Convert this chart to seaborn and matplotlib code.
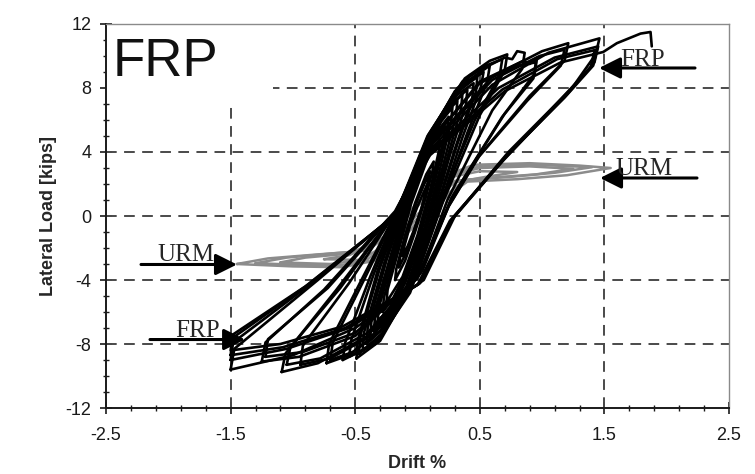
import matplotlib
matplotlib.use("Agg")
import matplotlib.pyplot as plt
import pandas as pd
import seaborn as sns
from matplotlib.patches import Rectangle
from matplotlib.ticker import MultipleLocator

# FRP-retrofitted pier: one list per load cycle (drift %, lateral load kips)
frp_drift = [
    [-0.12, -0.11, -0.06, 0.0, 0.05, 0.08, 0.07, 0.03, -0.03, -0.08, -0.12],
    [-0.15, -0.14, -0.08, -0.01, 0.06, 0.10, 0.09, 0.04, -0.03, -0.09, -0.15],
    [-0.18, -0.17, -0.1, -0.02, 0.07, 0.13, 0.12, 0.06, -0.02, -0.1, -0.18],
    [-0.25, -0.24, -0.14, -0.05, 0.08, 0.18, 0.17, 0.1, 0.0, -0.12, -0.25],
    [-0.28, -0.27, -0.16, -0.06, 0.08, 0.15, 0.22, 0.21, 0.12, 0.02, -0.11, -0.2, -0.28],
    [-0.32, -0.31, -0.18, -0.07, 0.08, 0.17, 0.25, 0.24, 0.14, 0.03, -0.1, -0.22, -0.32],
    [-0.35, -0.34, -0.2, -0.08, 0.08, 0.19, 0.28, 0.27, 0.17, 0.05, -0.1, -0.24, -0.35],
    [-0.38, -0.37, -0.22, -0.09, 0.08, 0.2, 0.32, 0.31, 0.2, 0.06, -0.1, -0.26, -0.38],
    [-0.41, -0.40, -0.25, -0.10, 0.09, 0.23, 0.36, 0.35, 0.23, 0.08, -0.09, -0.27, -0.41],
    [-0.44, -0.43, -0.27, -0.11, 0.09, 0.25, 0.40, 0.39, 0.26, 0.1, -0.08, -0.28, -0.44],
    [-0.47, -0.46, -0.3, -0.12, 0.09, 0.27, 0.45, 0.44, 0.3, 0.12, -0.08, -0.29, -0.47],
    [-0.49, -0.48, -0.32, -0.13, 0.09, 0.28, 0.48, 0.47, 0.32, 0.13, -0.08, -0.3, -0.49],
    [-0.55, -0.53, -0.35, -0.14, 0.08, 0.3, 0.53, 0.51, 0.36, 0.15, -0.07, -0.32, -0.55],
    [-0.6, -0.58, -0.38, -0.15, 0.08, 0.32, 0.58, 0.56, 0.4, 0.16, -0.06, -0.34, -0.6],
    [-0.7, -0.68, -0.43, -0.15, 0.09, 0.36, 0.55, 0.68, 0.66, 0.46, 0.18, -0.02, -0.3, -0.52, -0.7],
    [-0.73, -0.71, -0.45, -0.16, 0.08, 0.38, 0.58, 0.72, 0.70, 0.5, 0.2, 0.0, -0.3, -0.55, -0.73],
    [-0.94, -0.92, -0.55, -0.17, 0.1, 0.42, 0.7, 0.76, 0.8, 0.86, 0.84, 0.6, 0.24, 0.02, -0.35, -0.7, -0.94],
    [-1.05, -1.02, -0.62, -0.17, 0.11, 0.5, 0.8, 0.95, 0.93, 0.68, 0.27, 0.03, -0.4, -0.78, -1.05],
    [-1.09, -1.06, -0.65, -0.18, 0.1, 0.5, 0.85, 0.9, 0.96, 0.94, 0.7, 0.28, 0.04, -0.4, -0.8, -1.09],
    [-1.22, -1.2, -0.72, -0.17, 0.12, 0.6, 0.98, 1.18, 1.15, 0.88, 0.48, 0.24, 0.0, -0.5, -0.92, -1.22],
    [-1.25, -1.22, -0.75, -0.18, 0.12, 0.6, 1.0, 1.21, 1.18, 0.9, 0.5, 0.25, 0.0, -0.5, -0.95, -1.25],
    [-1.5, -1.47, -0.8, -0.15, 0.12, 0.6, 1.05, 1.46, 1.43, 1.24, 0.73, 0.3, 0.05, -0.5, -1.0, -1.5],
    [-1.5, -1.48, -0.85, -0.16, 0.1, 0.65, 1.1, 1.45, 1.42, 1.2, 0.7, 0.28, 0.02, -0.55, -1.05, -1.5],
    [-1.5, -1.48, -0.88, -0.16, 0.1, 0.68, 1.12, 1.44, 1.41, 1.18, 0.68, 0.27, 0.01, -0.58, -1.08, -1.5],
    [1.42, 1.39, 1.15, 0.68, 0.26, 0.0, -0.6, -1.1, -1.5, -1.48, -0.9, -0.17, 0.1, 0.7, 1.15,
     1.49, 1.6, 1.79, 1.87, 1.88],
]
frp_load = [
    [-2.5, -2.0, -0.6, 0.6, 1.5, 2.0, 1.6, 0.4, -0.9, -1.9, -2.5],
    [-3.2, -2.6, -0.9, 0.8, 2.1, 2.8, 2.3, 0.7, -1.0, -2.3, -3.2],
    [-4.0, -3.3, -1.2, 0.8, 2.6, 3.4, 2.8, 1.0, -1.0, -2.8, -4.0],
    [-5.4, -4.6, -1.8, 0.8, 3.6, 4.8, 4.0, 1.6, -1.2, -3.8, -5.4],
    [-6.0, -5.1, -2.0, 0.8, 3.9, 5.0, 5.6, 4.8, 1.9, -1.1, -3.8, -5.2, -6.0],
    [-6.6, -5.7, -2.2, 0.8, 4.0, 5.4, 6.2, 5.4, 2.2, -1.0, -3.8, -5.7, -6.6],
    [-7.2, -6.2, -2.4, 0.8, 4.2, 5.9, 6.8, 5.9, 2.6, -0.9, -4.0, -6.2, -7.2],
    [-7.6, -6.6, -2.6, 0.8, 4.3, 6.2, 7.2, 6.3, 3.0, -0.8, -4.2, -6.6, -7.6],
    [-8.0, -7.0, -2.8, 0.7, 4.5, 6.6, 7.6, 6.7, 3.4, -0.6, -4.4, -7.0, -8.0],
    [-8.4, -7.3, -3.0, 0.7, 4.6, 6.9, 7.9, 7.0, 3.8, -0.5, -4.5, -7.3, -8.4],
    [-8.6, -7.5, -3.2, 0.6, 4.7, 7.3, 8.3, 7.4, 4.2, -0.3, -4.6, -7.5, -8.6],
    [-8.9, -7.8, -3.4, 0.6, 4.8, 7.5, 8.7, 7.8, 4.5, -0.2, -4.8, -7.8, -8.9],
    [-8.8, -7.7, -3.6, 0.5, 4.8, 7.8, 9.0, 8.1, 4.9, -0.1, -4.8, -7.9, -8.8],
    [-9.0, -7.9, -3.8, 0.5, 4.9, 8.0, 9.4, 8.4, 5.2, 0.0, -4.8, -8.0, -9.0],
    [-9.0, -7.9, -4.0, 0.5, 5.1, 8.4, 9.4, 9.8, 8.8, 6.0, 0.8, -3.8, -7.2, -8.5, -9.0],
    [-9.2, -8.0, -4.0, 0.4, 5.0, 8.6, 9.7, 10.1, 9.1, 6.3, 0.8, -3.6, -7.2, -8.7, -9.2],
    [-9.3, -8.1, -4.2, 0.3, 5.0, 8.8, 9.9, 9.8, 10.3, 10.2, 9.2, 6.6, 1.0, -3.6, -7.4, -8.9, -9.3],
    [-9.3, -8.2, -4.5, 0.3, 4.7, 8.3, 9.4, 9.6, 8.6, 6.2, 1.1, -3.5, -7.3, -8.9, -9.3],
    [-9.75, -8.6, -4.6, 0.2, 4.6, 8.4, 9.7, 9.5, 9.9, 8.9, 6.4, 1.2, -3.4, -7.5, -9.2, -9.75],
    [-8.8, -7.7, -4.5, 0.3, 4.5, 8.5, 10.0, 10.4, 9.4, 7.2, 3.6, 0.5, -3.9, -7.3, -8.5, -8.8],
    [-9.1, -7.9, -4.6, 0.3, 4.6, 8.7, 10.3, 10.8, 9.7, 7.5, 3.8, 0.6, -3.8, -7.5, -8.8, -9.1],
    [-9.6, -8.3, -4.0, 0.3, 4.3, 8.2, 10.2, 11.1, 10.1, 8.0, 4.0, 0.0, -4.0, -7.0, -8.7, -9.6],
    [-9.0, -7.9, -4.2, 0.2, 4.0, 8.0, 9.9, 10.6, 9.6, 7.6, 3.6, -0.2, -4.2, -7.0, -8.3, -9.0],
    [-8.7, -7.6, -4.3, 0.15, 3.9, 7.9, 9.8, 10.4, 9.4, 7.4, 3.5, -0.25, -4.25, -7.0, -8.2, -8.7],
    [10.3, 9.3, 7.3, 3.4, -0.3, -4.3, -6.9, -8.0, -8.4, -7.4, -4.4, 0.1, 3.8, 7.8, 9.6,
     10.25, 10.8, 11.4, 11.5, 10.6],
]

# Unreinforced masonry pier
urm_drift = [
    [-1.45, -1.2, -0.8, -0.45, -0.25, 0.05, 0.25, 0.45, 0.9, 1.3, 1.55,
     1.2, 0.8, 0.4, 0.2, -0.1, -0.35, -0.6, -1.0, -1.45],
    [-1.3, -1.05, -0.7, -0.4, -0.22, 0.05, 0.28, 0.5, 0.95, 1.4,
     1.1, 0.75, 0.38, 0.18, -0.12, -0.38, -0.65, -0.95, -1.3],
    [-1.1, -0.9, -0.55, -0.3, 0.0, 0.25, 0.5, 0.9, 1.25,
     0.95, 0.6, 0.3, 0.15, -0.15, -0.4, -0.7, -1.1],
    [-0.75, -0.55, -0.3, 0.0, 0.25, 0.5, 0.8,
     0.55, 0.3, 0.1, -0.2, -0.45, -0.75],
]
urm_load = [
    [-3.0, -2.65, -2.4, -2.2, -1.2, 1.0, 2.6, 3.2, 3.3, 3.15, 3.0,
     2.55, 2.3, 2.15, 1.0, -1.2, -2.8, -3.2, -3.15, -3.0],
    [-2.95, -2.6, -2.35, -2.15, -1.1, 1.0, 2.7, 3.1, 3.2, 3.05,
     2.7, 2.45, 2.25, 1.0, -1.3, -2.8, -3.1, -3.05, -2.95],
    [-2.9, -2.6, -2.35, -1.5, 0.8, 2.5, 3.0, 3.1, 2.95,
     2.6, 2.4, 2.2, 1.0, -1.3, -2.7, -3.0, -2.9],
    [-2.7, -2.45, -1.6, 0.7, 2.4, 2.8, 2.75,
     2.45, 2.1, 0.9, -1.5, -2.75, -2.7],
]

x_ticks = [-2.5, -1.5, -0.5, 0.5, 1.5, 2.5]
y_ticks = [12, 8, 4, 0, -4, -8, -12]


def to_frame(drifts, loads):
    rows = []
    for cyc, (d, p) in enumerate(zip(drifts, loads)):
        for k, (x, y) in enumerate(zip(d, p)):
            rows.append({"cycle": cyc, "step": k, "drift": x, "load": y})
    return pd.DataFrame(rows)


frp_df = to_frame(frp_drift, frp_load)
urm_df = to_frame(urm_drift, urm_load)

sns.set_style("ticks")
plt.rcParams["font.family"] = ["Liberation Sans", "DejaVu Sans"]
plt.rcParams["axes.unicode_minus"] = False

fig = plt.figure(figsize=(7.55, 4.74), dpi=100)
ax = fig.add_axes([0.1404, 0.1392, 0.8252, 0.8102])

# dashed grid on the interior tick values
grid_kw = dict(color="#4a4a4a", lw=1.4, dashes=(5.5, 3.8), zorder=1)
for gx in x_ticks[1:-1]:
    ax.axvline(gx, **grid_kw)
for gy in y_ticks[1:-1]:
    ax.axhline(gy, **grid_kw)

# clear area behind the panel title
ax.add_patch(Rectangle((-2.5, 7.1), 1.34, 4.9, facecolor="white",
                       edgecolor="none", zorder=1.5))

sns.lineplot(data=urm_df, x="drift", y="load", units="cycle", estimator=None,
             sort=False, color="#8c8c8c", linewidth=1.8, ax=ax, legend=False,
             zorder=2)
sns.lineplot(data=frp_df, x="drift", y="load", units="cycle", estimator=None,
             sort=False, color="black", linewidth=1.9, ax=ax, legend=False,
             zorder=3)

ax.set_xlim(-2.5, 2.5)
ax.set_ylim(-12, 12)
ax.set_xticks(x_ticks)
ax.set_yticks(y_ticks)
ax.set_xticklabels([f"{v:g}" for v in x_ticks])
ax.set_yticklabels([f"{v:g}" for v in y_ticks])
ax.xaxis.set_minor_locator(MultipleLocator(0.2, offset=0.1))
ax.yaxis.set_minor_locator(MultipleLocator(1))
ax.tick_params(which="major", direction="inout", length=9, width=1.2,
               labelsize=13, colors="#1a1a1a", pad=6)
ax.tick_params(which="minor", direction="inout", length=5, width=1.0,
               colors="#1a1a1a")
ax.tick_params(axis="x", which="major", pad=9)

for side in ("left", "bottom"):
    ax.spines[side].set_linewidth(1.4)
    ax.spines[side].set_color("#1a1a1a")
for side in ("top", "right"):
    ax.spines[side].set_linewidth(1.0)
    ax.spines[side].set_color("#8a8a8a")
ax.spines["top"].set_linestyle((0, (1.5, 1)))

ax.set_xlabel("Drift %", fontsize=13, fontweight="bold", labelpad=8)
ax.set_ylabel("Lateral Load [kips]", fontsize=13, fontweight="bold", labelpad=6)

ax.text(-2.444, 8.75, "FRP", fontsize=38, va="baseline", ha="left",
        color="#111111", zorder=4)

arrow_kw = dict(arrowstyle="-|>,head_length=0.5,head_width=0.25",
                color="black", lw=2.2, shrinkA=0, shrinkB=0,
                mutation_scale=26)
serif = ["Liberation Serif", "DejaVu Serif"]
callouts = [
    ("FRP", (1.457, 9.25), (2.227, 9.25), (1.625, 9.38)),
    ("URM", (1.465, 2.375), (2.243, 2.375), (1.585, 2.56)),
    ("URM", (-1.449, -3.03), (-2.219, -3.03), (-2.09, -2.81)),
    ("FRP", (-1.384, -7.72), (-2.147, -7.72), (-1.946, -7.56)),
]
for label, tip, tail, pos in callouts:
    ax.annotate("", xy=tip, xytext=tail, arrowprops=arrow_kw, zorder=5)
    ax.text(pos[0], pos[1], label, fontsize=18, family=serif,
            ha="left", va="baseline", zorder=5)

fig.savefig("out.png", dpi=100, facecolor="white")
